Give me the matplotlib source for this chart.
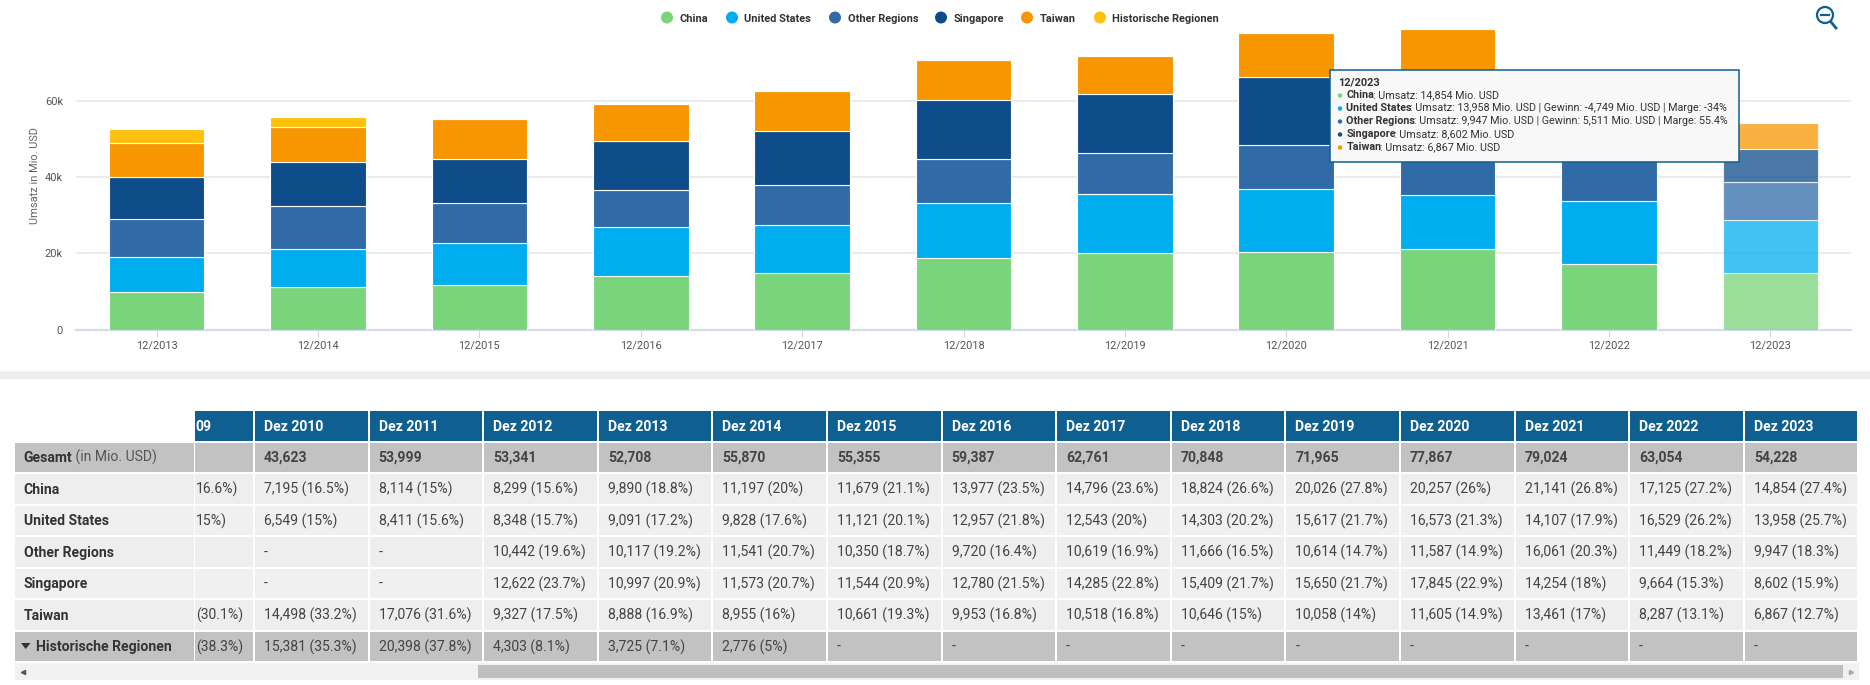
import matplotlib
matplotlib.use("Agg")
import matplotlib.pyplot as plt
from matplotlib.patches import Rectangle, Circle

plt.rcParams["font.family"] = ["Roboto", "DejaVu Sans"]

W, H = 1870, 685
PX = 72 / 100  # one pixel in points

# Chart data (Mio. USD)
years = ["12/2013", "12/2014", "12/2015", "12/2016", "12/2017", "12/2018",
         "12/2019", "12/2020", "12/2021", "12/2022", "12/2023"]
china = [9890, 11197, 11679, 13977, 14796, 18824, 20026, 20257, 21141, 17125, 14854]
usa = [9091, 9828, 11121, 12957, 12543, 14303, 15617, 16573, 14107, 16529, 13958]
other = [10117, 11541, 10350, 9720, 10619, 11666, 10614, 11587, 16061, 11449, 9947]
singapore = [10997, 11573, 11544, 12780, 14285, 15409, 15650, 17845, 14254, 9664, 8602]
taiwan = [8888, 8955, 10661, 9953, 10518, 10646, 10058, 11605, 13461, 8287, 6867]
historic = [3725, 2776, 0, 0, 0, 0, 0, 0, 0, 0, 0]

series_names = ["China", "United States", "Other Regions", "Singapore", "Taiwan",
                "Historische Regionen"]
series_colors = ["#7AD47B", "#00AEEF", "#306BA8", "#0F4C8A", "#F79600", "#FFC10D"]
y_ticks = [0, 20000, 40000, 60000]
y_tick_labels = ["0", "20k", "40k", "60k"]

# Table data
table_years = ["Dez 2010", "Dez 2011", "Dez 2012", "Dez 2013", "Dez 2014", "Dez 2015", "Dez 2016",
               "Dez 2017", "Dez 2018", "Dez 2019", "Dez 2020", "Dez 2021", "Dez 2022", "Dez 2023"]
t_total = ["43,623", "53,999", "53,341", "52,708", "55,870", "55,355", "59,387",
           "62,761", "70,848", "71,965", "77,867", "79,024", "63,054", "54,228"]
t_china = ["7,195 (16.5%)", "8,114 (15%)", "8,299 (15.6%)", "9,890 (18.8%)", "11,197 (20%)",
           "11,679 (21.1%)", "13,977 (23.5%)", "14,796 (23.6%)", "18,824 (26.6%)", "20,026 (27.8%)",
           "20,257 (26%)", "21,141 (26.8%)", "17,125 (27.2%)", "14,854 (27.4%)"]
t_usa = ["6,549 (15%)", "8,411 (15.6%)", "8,348 (15.7%)", "9,091 (17.2%)", "9,828 (17.6%)",
         "11,121 (20.1%)", "12,957 (21.8%)", "12,543 (20%)", "14,303 (20.2%)", "15,617 (21.7%)",
         "16,573 (21.3%)", "14,107 (17.9%)", "16,529 (26.2%)", "13,958 (25.7%)"]
t_other = ["-", "-", "10,442 (19.6%)", "10,117 (19.2%)", "11,541 (20.7%)",
           "10,350 (18.7%)", "9,720 (16.4%)", "10,619 (16.9%)", "11,666 (16.5%)", "10,614 (14.7%)",
           "11,587 (14.9%)", "16,061 (20.3%)", "11,449 (18.2%)", "9,947 (18.3%)"]
t_singapore = ["-", "-", "12,622 (23.7%)", "10,997 (20.9%)", "11,573 (20.7%)",
               "11,544 (20.9%)", "12,780 (21.5%)", "14,285 (22.8%)", "15,409 (21.7%)", "15,650 (21.7%)",
               "17,845 (22.9%)", "14,254 (18%)", "9,664 (15.3%)", "8,602 (15.9%)"]
t_taiwan = ["14,498 (33.2%)", "17,076 (31.6%)", "9,327 (17.5%)", "8,888 (16.9%)", "8,955 (16%)",
            "10,661 (19.3%)", "9,953 (16.8%)", "10,518 (16.8%)", "10,646 (15%)", "10,058 (14%)",
            "11,605 (14.9%)", "13,461 (17%)", "8,287 (13.1%)", "6,867 (12.7%)"]
t_historic = ["15,381 (35.3%)", "20,398 (37.8%)", "4,303 (8.1%)", "3,725 (7.1%)", "2,776 (5%)",
              "-", "-", "-", "-", "-", "-", "-", "-", "-"]
# the 2009 column is scrolled off, only these pieces are visible
t_cut = ["", "16.6%)", "15%)", "", "", "(30.1%)", "(38.3%)"]

fig = plt.figure(figsize=(W / 100, H / 100), dpi=100)

# -----------------------------
# Stacked bars
# -----------------------------
ax = fig.add_axes([76 / W, (H - 329.5) / H, 1775 / W, 304.4 / H])
x = list(range(len(years)))
bottom = [0] * len(years)
for vals, name, col in zip([china, usa, other, singapore, taiwan, historic], series_names, series_colors):
    bars = ax.bar(x, vals, bottom=bottom, width=0.592, color=col, edgecolor="white", linewidth=0.8,
                  label=name, zorder=3)
    bars[-1].set_alpha(0.75)  # hovered year is drawn lighter
    bottom = [b + v for b, v in zip(bottom, vals)]

ax.set_xlim(-0.5, len(years) - 0.5)
ax.set_ylim(0, 80000)
ax.set_xticks(x)
ax.set_xticklabels(years, fontsize=11 * PX, color="#555555")
ax.set_yticks(y_ticks)
ax.set_yticklabels(y_tick_labels, fontsize=11 * PX, color="#555555")
ax.tick_params(axis="x", length=5, width=0.8, color="#CCD6EB", pad=2.9)
ax.tick_params(axis="y", length=0, pad=9.4)
ax.grid(axis="y", color="#E8E8E8", linewidth=1.2, zorder=0)
ax.set_axisbelow(True)
for side in ["top", "right", "left"]:
    ax.spines[side].set_visible(False)
ax.spines["bottom"].set_color("#D5DCEC")
ax.spines["bottom"].set_linewidth(1.6)
ax.set_ylabel("Umsatz in Mio. USD", fontsize=11 * PX, color="#6B5F63")
ax.yaxis.set_label_coords((39.5 - 76) / 1775, 0.505)

# Overlay in pixel coordinates for legend, tooltip and table
ov = fig.add_axes([0, 0, 1, 1], zorder=5)
ov.set_xlim(0, W)
ov.set_ylim(H, 0)
ov.axis("off")
ov.patch.set_alpha(0)

# -----------------------------
# Legend
# -----------------------------
legend_x = [667, 732, 835, 941, 1027, 1100]
for lx, name, col in zip(legend_x, series_names, series_colors):
    ov.add_patch(Circle((lx, 17.5), 6, color=col, lw=0))
    ov.text(lx + 12.5, 19, name, fontsize=11 * PX, fontweight="bold", color="#333333", va="center")

# zoom out icon
icon = "#0F5F94"
ov.add_patch(Circle((1825, 15), 8, fill=False, ec=icon, lw=1.6))
ov.plot([1821, 1829], [15, 15], color=icon, lw=1.6)
ov.plot([1831, 1836], [22, 28], color=icon, lw=2)

# -----------------------------
# Tooltip
# -----------------------------
ov.add_patch(Rectangle((1329.5, 69.5), 409, 92.5, fc="#F8F8F8", ec="#0F5F8F", lw=1.1, zorder=6))
ov.text(1338, 82, "12/2023", fontsize=11 * PX, fontweight="bold", color="#333333", va="center", zorder=7)
tip_lines = [
    ("China", ": Umsatz: 14,854 Mio. USD"),
    ("United States", ": Umsatz: 13,958 Mio. USD | Gewinn: -4,749 Mio. USD | Marge: -34%"),
    ("Other Regions", ": Umsatz: 9,947 Mio. USD | Gewinn: 5,511 Mio. USD | Marge: 55.4%"),
    ("Singapore", ": Umsatz: 8,602 Mio. USD"),
    ("Taiwan", ": Umsatz: 6,867 Mio. USD"),
]
renderer = fig.canvas.get_renderer()


def two_part(px, py, first, second, fs, c1="#333333", c2="#333333", zorder=7, trim=0.5):
    # bold part followed by regular part on the same baseline
    t = ov.text(px, py, first, fontsize=fs, fontweight="bold", color=c1, va="center", zorder=zorder)
    end = t.get_window_extent(renderer).x1 - trim
    ov.text(end, py, second, fontsize=fs, color=c2, va="center", zorder=zorder)


for i, (name, rest) in enumerate(tip_lines):
    py = 95 + i * 13
    ov.add_patch(Circle((1340, py + 0.5), 2.2, color=series_colors[i], lw=0, zorder=7))
    two_part(1346.5, py, name, rest, 10.8 * PX, trim=1.5)

# -----------------------------
# Table
# -----------------------------
ov.add_patch(Rectangle((0, 371), W, 8, color="#EEEEEE", lw=0))

col_left = [255 + 114.6 * i for i in range(len(table_years))]
col_w = 112.5
row_top = [443, 474, 506, 537, 569, 600, 632]
row_h = [28.5, 30, 29, 30, 29, 30, 29]
row_fill = ["#C2C2C2", "#EEEEEE", "#F0F0F0", "#EEEEEE", "#F0F0F0", "#EEEEEE", "#C2C2C2"]
row_vals = [t_total, t_china, t_usa, t_other, t_singapore, t_taiwan, t_historic]
row_names = ["Gesamt", "China", "United States", "Other Regions", "Singapore", "Taiwan",
             "Historische Regionen"]
FS = 14 * PX

ov.add_patch(Rectangle((195, 411), 58, 30, color="#0F6090", lw=0))
ov.text(195, 426.5, "09", fontsize=FS, fontweight="bold", color="white", va="center")
for cx, label in zip(col_left, table_years):
    ov.add_patch(Rectangle((cx, 411), col_w, 30, color="#0F6090", lw=0))
    ov.text(cx + 9, 426.5, label, fontsize=FS, fontweight="bold", color="white", va="center")

for r, (top, h, fill, vals, name, cut) in enumerate(zip(row_top, row_h, row_fill, row_vals, row_names, t_cut)):
    ymid = top + h / 2 + 0.5
    ov.add_patch(Rectangle((15, top), 179, h, color=fill, lw=0))
    ov.add_patch(Rectangle((195, top), 58, h, color=fill, lw=0))
    if name == "Gesamt":
        two_part(23.5, ymid, name, " (in Mio. USD)", FS, c2="#555555", zorder=3)
    elif name == "Historische Regionen":
        ov.fill([21, 30.5, 25.7], [ymid - 4, ymid - 4, ymid + 2], color="#333333", lw=0)
        ov.text(36, ymid, name, fontsize=FS, fontweight="bold", color="#333333", va="center")
    else:
        ov.text(23.5, ymid, name, fontsize=FS, fontweight="bold", color="#333333", va="center")
    ov.text(196, ymid, cut, fontsize=FS, color="#444444", va="center")
    for cx, val in zip(col_left, vals):
        ov.add_patch(Rectangle((cx, top), col_w, h, color=fill, lw=0))
        ov.text(cx + 9, ymid, val, fontsize=FS, color="#444444", va="center",
                fontweight="bold" if r == 0 else "normal")

# scrollbar
ov.add_patch(Rectangle((15, 663), 1844, 17, color="#F1F1F1", lw=0))
ov.add_patch(Rectangle((478, 665), 1365, 13, color="#BFBFBF", lw=0))
ov.plot([23], [672], marker="<", ms=3, color="#555555", lw=0)
ov.plot([1851], [672], marker=">", ms=3, color="#AAAAAA", lw=0)

plt.savefig("out.png", dpi=100)
